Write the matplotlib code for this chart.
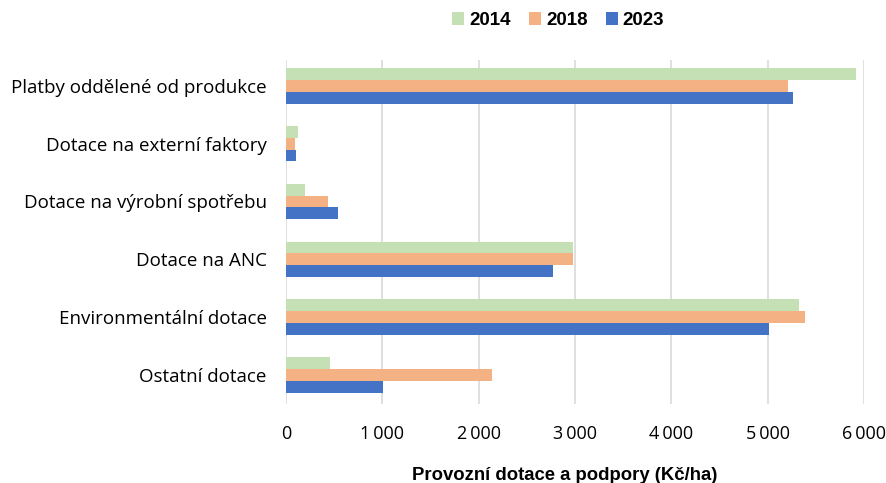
import numpy as np
import matplotlib.pyplot as plt
from matplotlib.ticker import FuncFormatter

categories = [
    "Platby oddělené od produkce",
    "Dotace na externí faktory",
    "Dotace na výrobní spotřebu",
    "Dotace na ANC",
    "Environmentální dotace",
    "Ostatní dotace",
]
years = ["2014", "2018", "2023"]
values_2014 = [5920, 127, 197, 2984, 5327, 452]
values_2018 = [5212, 90, 432, 2976, 5393, 2141]
values_2023 = [5261, 107, 538, 2770, 5010, 1003]
colors = ["#C5E0B4", "#F4B183", "#4472C4"]

plt.rcParams['font.family'] = ['Open Sans', 'DejaVu Sans']
bold_font = {'family': ['Liberation Sans', 'DejaVu Sans'], 'weight': 'bold'}

fig = plt.figure(figsize=(8.86, 4.83), dpi=100)
ax = fig.add_axes([0.3228, 0.164, 0.6523, 0.712])

y = np.arange(len(categories))
h = 0.205
for i, (vals, year) in enumerate(zip([values_2014, values_2018, values_2023], years)):
    ax.barh(y + (i - 1) * h, vals, height=h, color=colors[i], label=year, zorder=3)

ax.set_xlim(0, 6000)
ax.set_ylim(5.5, -0.45)
ax.set_yticks(y)
ax.set_yticklabels(categories, fontsize=13.5)
ax.set_xticks(range(0, 6001, 1000))
ax.xaxis.set_major_formatter(FuncFormatter(lambda v, p: f"{int(v):,}".replace(",", "\u2009")))
ax.tick_params(axis='x', labelsize=13, length=0, pad=15)
ax.tick_params(axis='y', length=0, pad=14)
ax.grid(axis='x', color='#d9d9d9', linewidth=1.2, zorder=0)
for s in ax.spines.values():
    s.set_visible(False)

ax.set_xlabel("Provozní dotace a podpory (Kč/ha)", fontsize=13.3, **bold_font)
ax.xaxis.set_label_coords(0.483, -0.185)

leg = fig.legend(loc='upper center', bbox_to_anchor=(0.63, 1.01), ncol=3, frameon=False,
                 prop={**bold_font, 'size': 13.5}, handlelength=0.64, handleheight=0.64,
                 columnspacing=0.96, handletextpad=0.27)

fig.savefig("out.png", dpi=100)
